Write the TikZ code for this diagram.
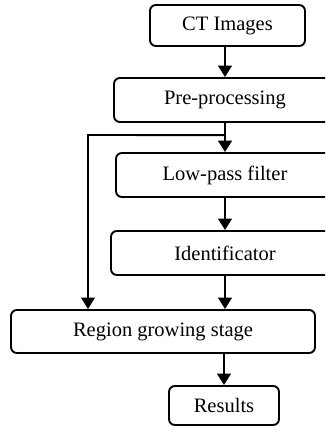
\documentclass[tikz,border=0pt]{standalone}
\usepackage{fontspec}
\setmainfont{Liberation Serif}
\usetikzlibrary{arrows.meta,positioning,calc}
\tikzset{
  blk/.style={draw=black,line width=1.6pt,fill=white,rounded corners=5pt,
              font=\fontsize{17.5}{20}\selectfont,align=center,inner sep=0pt},
  ar/.style ={-{Triangle[length=3.4mm,width=4mm]},line width=2.4pt},
}

\begin{document}
\begin{tikzpicture}
  \clip (0,0) rectangle (9.75,-12.78);
  \useasboundingbox (0,0) rectangle (9.75,-12.78);
  % main chain
  \node[blk,minimum width=4.65cm,minimum height=1.23cm] (ct)  at (6.825,-0.765){CT Images};
  \node[blk,minimum width=6.66cm,minimum height=1.32cm] (pre) at (6.75,-3.0){Pre-processing};
  \node[blk,minimum width=6.54cm,minimum height=1.32cm] (lpf) at (6.75,-5.25){Low-pass filter};
  \node[blk,minimum width=6.84cm,minimum height=1.32cm] (idf) at (6.75,-7.59){Identificator};
  \node[blk,minimum width=9.12cm,minimum height=1.29cm] (rgs) at (4.89,-9.945){Region growing stage};
  \node[blk,minimum width=3.3cm,minimum height=1.17cm]  (res) at (6.72,-12.165){Results};
  \draw[ar] (ct.south -| pre.north) -- (pre.north);
  \draw[ar] (pre.south) -- (lpf.north);
  \draw[ar] (lpf.south) -- (idf.north);
  \draw[ar] (idf.south) -- (idf.south |- rgs.north);
  \draw[ar] (res.north |- rgs.south) -- (res.north);
  % bypass to region growing
  \coordinate (fork) at ($(pre.south)!0.42!(lpf.north)$);
  \coordinate (lft)  at (2.64,-4.05);
  \draw[ar,line width=1.6pt] (fork) -- (lft) -- (lft |- rgs.north);
\end{tikzpicture}
\end{document}
